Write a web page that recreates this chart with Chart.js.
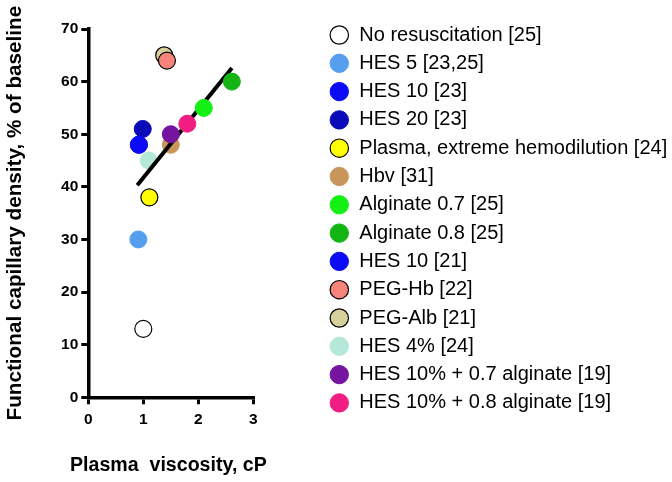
<!DOCTYPE html>
<html><head><meta charset="utf-8">
<script src="https://cdn.jsdelivr.net/npm/chart.js@4/dist/chart.umd.min.js"></script>
<style>html,body{margin:0;padding:0;background:#fff}</style>
</head><body>
<canvas id="c" width="672" height="482"></canvas>
<script>
// ---- data ----
const groups = [
  'No resuscitation [25]',
  'HES 5 [23,25]',
  'HES 10 [23]',
  'HES 20 [23]',
  'Plasma, extreme hemodilution [24]',
  'Hbv [31]',
  'Alginate 0.7 [25]',
  'Alginate 0.8 [25]',
  'HES 10 [21]',
  'PEG-Hb [22]',
  'PEG-Alb [21]',
  'HES 4% [24]',
  'HES 10% + 0.7 alginate [19]',
  'HES 10% + 0.8 alginate [19]'
];
const viscosity = [1.00, 0.91, 0.92, 0.99, 1.11, 1.50, 2.10, 2.61, 0.92, 1.43, 1.38, 1.10, 1.50, 1.80];
const fcd       = [13,   30,   48,   51,   38,   48,   55,   60,   48,   64,   65,   45,   50,   52];
const fitViscosity = [0.89, 2.61];
const fitFcd       = [40.3, 62.6];
const xTickValues = [0, 1, 2, 3];
const yTickValues = [0, 10, 20, 30, 40, 50, 60, 70];

// ---- styles ----
const fillColors = ['#ffffff','#559ef0','#0b0bf5','#0a0ab8','#ffff00','#c8965a','#14f014','#14b414',
                    '#0b0bf5','#f7837a','#d6d09c','#b4e8d8','#7414a0','#f01e82'];
const outlined   = [true,false,false,false,true,false,false,false,false,true,true,false,false,false];
const layer      = [2,2,1,2,2,6,1,1,3,1,2,6,1,1];

const FONT = "'Liberation Sans', Arial, sans-serif";

const datasets = groups.map((g, i) => ({
  label: g,
  data: [{x: viscosity[i], y: fcd[i]}],
  backgroundColor: fillColors[i],
  borderColor: outlined[i] ? '#000000' : fillColors[i],
  borderWidth: outlined[i] ? 1.2 : 1,
  pointRadius: 8.5,
  pointHoverRadius: 8.5,
  order: layer[i]
}));
datasets.push({
  label: 'fit',
  data: fitViscosity.map((x, i) => ({x: x, y: fitFcd[i]})),
  showLine: true,
  borderColor: '#000000',
  borderWidth: 4,
  pointRadius: 0,
  order: 5
});

const placeBlocks = {
  id: 'placeBlocks',
  afterLayout(chart) {
    const lg = chart.legend;
    if (lg) {
      lg.left = 321; lg.width = 350; lg.right = lg.left + lg.width;
      lg.top = 16.7; lg.bottom = lg.top + lg.height;
    }
    const tb = chart.titleBlock;
    if (tb) {
      tb.left = 70; tb.width = 260; tb.right = tb.left + tb.width;
      tb.top = 454.2; tb.bottom = tb.top + tb.height;
    }
  }
};

new Chart(document.getElementById('c'), {
  type: 'scatter',
  data: { datasets },
  plugins: [placeBlocks],
  options: {
    responsive: false,
    animation: false,
    events: [],
    layout: { padding: { top: 29, right: 118.7, bottom: 0, left: 0 } },
    plugins: {
      tooltip: { enabled: false },
      title: {
        display: true,
        position: 'bottom',
        align: 'start',
        text: 'Plasma  viscosity, cP',
        color: '#000',
        padding: 0,
        font: { family: FONT, size: 19.6, weight: 'bold', lineHeight: 1.2 }
      },
      legend: {
        position: 'right',
        align: 'start',
        maxWidth: 300,
        labels: {
          usePointStyle: true,
          pointStyle: 'circle',
          boxWidth: 20,
          boxHeight: 13,
          padding: 8.3,
          color: '#000',
          font: { family: FONT, size: 20 },
          filter: (item) => item.datasetIndex < groups.length,
          sort: (a, b) => a.datasetIndex - b.datasetIndex
        }
      }
    },
    scales: {
      x: {
        type: 'linear',
        min: xTickValues[0],
        max: xTickValues[xTickValues.length - 1],
        afterFit: (s) => { s.height = 61.2; },
        ticks: { stepSize: 1, color: '#000', padding: 6, font: { family: FONT, size: 15.5, weight: 'bold' } },
        grid: { drawOnChartArea: false, drawTicks: true, tickLength: 7, color: '#000', lineWidth: 3 },
        border: { display: true, color: '#000', width: 3.5 }
      },
      y: {
        type: 'linear',
        min: yTickValues[0],
        max: yTickValues[yTickValues.length - 1],
        afterFit: (s) => { s.width = 88.3; },
        ticks: { stepSize: 10, color: '#000', padding: 3, font: { family: FONT, size: 15.5, weight: 'bold' } },
        grid: { drawOnChartArea: false, drawTicks: true, tickLength: 7, color: '#000', lineWidth: 3 },
        border: { display: true, color: '#000', width: 3.5 },
        title: { display: true, text: 'Functional capillary density, % of baseline', color: '#000',
                 padding: { top: 3, bottom: 0 }, font: { family: FONT, size: 20.7, weight: 'bold' } }
      }
    }
  }
});
</script>
</body></html>
